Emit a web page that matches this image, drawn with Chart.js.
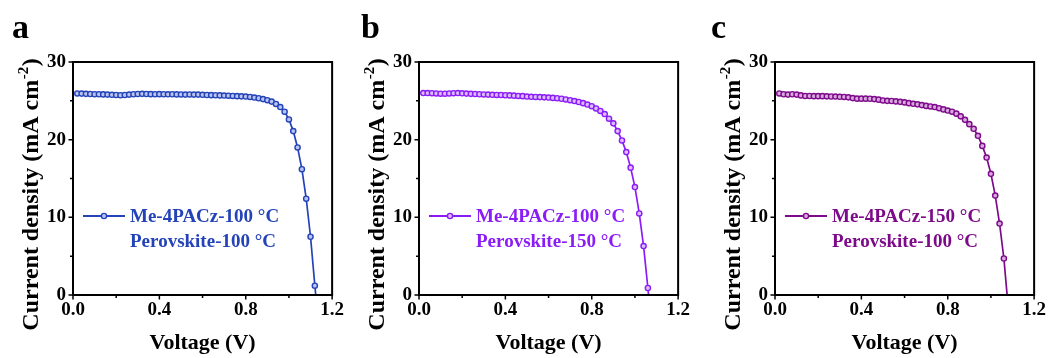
<!DOCTYPE html>
<html><head><meta charset="utf-8">
<script src="https://cdn.jsdelivr.net/npm/chart.js@4/dist/chart.umd.min.js"></script>
<style>
body{margin:0;width:1051px;height:358px;background:#fff;position:relative;overflow:hidden}
canvas{position:absolute;top:0}
</style></head>
<body>
<canvas id="ca" width="348" height="358" style="left:0px"></canvas>
<canvas id="cb" width="348" height="358" style="left:346px"></canvas>
<canvas id="cc" width="348" height="358" style="left:702px"></canvas>
<script>
// ---- data ----
const voltageA = [0.02,0.04,0.06,0.08,0.10,0.12,0.14,0.16,0.18,0.20,0.22,0.24,0.26,0.28,0.30,0.32,0.34,0.36,0.38,0.40,0.42,0.44,0.46,0.48,0.50,0.52,0.54,0.56,0.58,0.60,0.62,0.64,0.66,0.68,0.70,0.72,0.74,0.76,0.78,0.80,0.82,0.84,0.86,0.88,0.90,0.92,0.94,0.96,0.98,1.00,1.02,1.04,1.06,1.08,1.10,1.12,1.14];
const currentA = [25.95,25.93,25.9,25.88,25.85,25.85,25.83,25.8,25.78,25.75,25.72,25.75,25.8,25.85,25.88,25.9,25.88,25.86,25.85,25.86,25.85,25.84,25.85,25.83,25.82,25.8,25.82,25.8,25.8,25.78,25.75,25.73,25.72,25.7,25.68,25.66,25.63,25.6,25.58,25.55,25.5,25.42,25.33,25.22,25.08,24.9,24.6,24.2,23.6,22.6,21.1,19.0,16.2,12.4,7.5,1.2,-4.5];

const voltageB = [0.02,0.04,0.06,0.08,0.10,0.12,0.14,0.16,0.18,0.20,0.22,0.24,0.26,0.28,0.30,0.32,0.34,0.36,0.38,0.40,0.42,0.44,0.46,0.48,0.50,0.52,0.54,0.56,0.58,0.60,0.62,0.64,0.66,0.68,0.70,0.72,0.74,0.76,0.78,0.80,0.82,0.84,0.86,0.88,0.90,0.92,0.94,0.96,0.98,1.00,1.02,1.04,1.06,1.08];
const currentB = [26.0,26.0,25.98,25.95,25.92,25.92,25.95,25.98,26.0,25.97,25.93,25.9,25.88,25.85,25.82,25.8,25.78,25.76,25.75,25.72,25.7,25.67,25.63,25.6,25.55,25.52,25.5,25.48,25.45,25.42,25.38,25.33,25.27,25.18,25.08,24.97,24.85,24.7,24.52,24.3,24.02,23.7,23.3,22.7,22.1,21.1,19.9,18.4,16.4,13.9,10.5,6.3,0.9,-5.0];

const voltageC = [0.02,0.04,0.06,0.08,0.10,0.12,0.14,0.16,0.18,0.20,0.22,0.24,0.26,0.28,0.30,0.32,0.34,0.36,0.38,0.40,0.42,0.44,0.46,0.48,0.50,0.52,0.54,0.56,0.58,0.60,0.62,0.64,0.66,0.68,0.70,0.72,0.74,0.76,0.78,0.80,0.82,0.84,0.86,0.88,0.90,0.92,0.94,0.96,0.98,1.00,1.02,1.04,1.06,1.08];
const currentC = [25.95,25.85,25.8,25.85,25.8,25.7,25.62,25.62,25.6,25.6,25.6,25.58,25.56,25.55,25.52,25.5,25.45,25.35,25.28,25.28,25.28,25.27,25.22,25.15,25.05,25.0,24.98,24.93,24.87,24.8,24.7,24.62,24.55,24.45,24.35,24.28,24.2,24.05,23.9,23.75,23.6,23.35,23.0,22.55,22.0,21.4,20.5,19.2,17.7,15.6,12.8,9.2,4.7,-1.6];

const legendA = ["Me-4PACz-100 °C", "Perovskite-100 °C"];
const legendB = ["Me-4PACz-100 °C", "Perovskite-150 °C"];
const legendC = ["Me-4PACz-150 °C", "Perovskite-100 °C"];

const xTicks = [0, 0.4, 0.8, 1.2];
const yTicks = [0, 10, 20, 30];
const xTitle = "Voltage (V)";
const yTitleMain = "Current density (mA cm";
const yTitleSup = "-2";
const yTitleEnd = ")";

const FONT = "'Liberation Serif', 'Times New Roman', serif";

const decorPlugin = {
  id: 'decor',
  afterDraw(chart, args, opts) {
    const ctx = chart.ctx;
    const a = chart.chartArea;
    const xs = chart.scales.x, ys = chart.scales.y;
    ctx.save();
    // frame
    ctx.strokeStyle = '#000';
    ctx.lineWidth = 2;
    ctx.strokeRect(a.left, a.top, a.right - a.left, a.bottom - a.top);
    // ticks (outward)
    ctx.lineWidth = 1.5;
    ctx.beginPath();
    for (let i = 0; i <= 6; i++) {
      const v = i * 0.2;
      const px = xs.getPixelForValue(v);
      const len = (i % 2 === 0) ? 3.5 : 2;
      ctx.moveTo(px, a.bottom + 1);
      ctx.lineTo(px, a.bottom + 1 + len);
    }
    for (let i = 0; i <= 6; i++) {
      const v = i * 5;
      const py = ys.getPixelForValue(v);
      const len = (i % 2 === 0) ? 3.5 : 2;
      ctx.moveTo(a.left - 1, py);
      ctx.lineTo(a.left - 1 - len, py);
    }
    ctx.stroke();
    // panel letter
    ctx.fillStyle = '#000';
    ctx.font = "bold 34px " + FONT;
    ctx.textBaseline = 'alphabetic';
    ctx.textAlign = 'left';
    ctx.fillText(opts.letter, opts.letterX, 38);
    // x title
    ctx.font = "bold 22px " + FONT;
    ctx.textAlign = 'center';
    ctx.textBaseline = 'middle';
    ctx.fillText(xTitle, (a.left + a.right) / 2, 343);
    // y title with superscript
    ctx.translate(30, 195);
    ctx.rotate(-Math.PI / 2);
    const mainF = "bold 24px " + FONT, supF = "bold 15px " + FONT;
    ctx.font = mainF; const w1 = ctx.measureText(yTitleMain).width; const w3 = ctx.measureText(yTitleEnd).width;
    ctx.font = supF; const w2 = ctx.measureText(yTitleSup).width;
    let x0 = -(w1 + w2 + w3) / 2;
    ctx.textAlign = 'left';
    ctx.textBaseline = 'alphabetic';
    ctx.font = mainF; ctx.fillText(yTitleMain, x0, 8);
    ctx.font = supF; ctx.fillText(yTitleSup, x0 + w1 + 0.5, -2);
    ctx.font = mainF; ctx.fillText(yTitleEnd, x0 + w1 + w2 + 1, 8);
    ctx.setTransform(1, 0, 0, 1, 0, 0);
    // legend
    const ds = chart.data.datasets[0];
    const ly = 216;
    const lx0 = a.left + 10, lx1 = a.left + 52;
    ctx.strokeStyle = ds.borderColor;
    ctx.lineWidth = 1.8;
    ctx.beginPath(); ctx.moveTo(lx0, ly); ctx.lineTo(lx1, ly); ctx.stroke();
    ctx.beginPath(); ctx.arc((lx0 + lx1) / 2, ly, 2.6, 0, Math.PI * 2);
    ctx.fillStyle = ds.pointBackgroundColor; ctx.fill();
    ctx.lineWidth = 1.4; ctx.stroke();
    ctx.fillStyle = ds.borderColor;
    ctx.font = "bold 19px " + FONT;
    ctx.textAlign = 'left';
    ctx.textBaseline = 'middle';
    ctx.fillText(opts.labels[0], a.left + 57, ly + 1);
    ctx.fillText(opts.labels[1], a.left + 57, ly + 26);
    ctx.restore();
  }
};

function makeChart(id, V, J, color, fill, labels, letter, letterX) {
  return new Chart(document.getElementById(id), {
    type: 'line',
    data: {
      datasets: [{
        label: labels.join(' / '),
        data: V.map((v, i) => ({x: v, y: J[i]})),
        borderColor: color,
        backgroundColor: fill,
        borderWidth: 1.7,
        pointRadius: 2.6,
        pointBorderWidth: 1.4,
        pointBackgroundColor: fill,
        pointBorderColor: color,
        tension: 0,
        fill: false
      }]
    },
    options: {
      responsive: false,
      animation: false,
      events: [],
      layout: {padding: {top: 62, right: 15, bottom: 0, left: 0}},
      plugins: {
        legend: {display: false},
        tooltip: {enabled: false},
        decor: {letter: letter, letterX: letterX, labels: labels}
      },
      scales: {
        x: {
          type: 'linear', min: 0, max: 1.2,
          afterFit: s => { s.height = 63; },
          afterBuildTicks: s => { s.ticks = xTicks.map(v => ({value: v})); },
          border: {display: false},
          grid: {display: false, drawTicks: false},
          ticks: {autoSkip: false, maxRotation: 0, padding: 4, color: '#000',
                  font: {family: FONT, weight: 'bold', size: 19},
                  callback: v => Number(v).toFixed(1)}
        },
        y: {
          type: 'linear', min: 0, max: 30,
          afterFit: s => { s.width = 73; },
          afterBuildTicks: s => { s.ticks = yTicks.map(v => ({value: v})); },
          border: {display: false},
          grid: {display: false, drawTicks: false},
          ticks: {padding: 7, color: '#000',
                  font: {family: FONT, weight: 'bold', size: 19},
                  callback: v => String(v)}
        }
      }
    },
    plugins: [decorPlugin]
  });
}

makeChart('ca', voltageA, currentA, '#2443b8', '#b9c5f0', legendA, 'a', 12);
makeChart('cb', voltageB, currentB, '#8b1cf7', '#dcbcff', legendB, 'b', 15);
makeChart('cc', voltageC, currentC, '#7d0a8a', '#d9a9de', legendC, 'c', 9);
</script>
</body></html>
